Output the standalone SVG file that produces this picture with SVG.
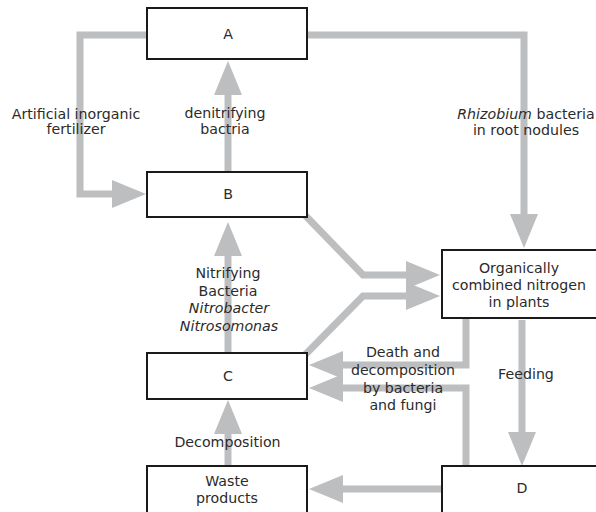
<svg xmlns="http://www.w3.org/2000/svg" width="596" height="512" viewBox="0 0 596 512">
<style>
.c{fill:none;stroke:#bcbec0;stroke-width:7;stroke-linejoin:miter}
.b{fill:#fff;stroke:#1a1a1a;stroke-width:2}
text{font-family:"DejaVu Sans","Liberation Sans",sans-serif;font-size:14.2px;fill:#2b2b2b;text-anchor:middle}
.i{font-style:italic}
</style>
<defs>
<marker id="ah" markerUnits="userSpaceOnUse" viewBox="0 -14 34 28" markerWidth="34" markerHeight="28" refX="1" refY="0" orient="auto">
<path d="M0,-14 L34,0 L0,14 z" fill="#bcbec0"/>
</marker>
</defs>
<rect width="596" height="512" fill="#fff"/>
<g id="connectors">
<path class="c" d="M150,35 H80 V194 H113" marker-end="url(#ah)"/>
<path class="c" d="M228,175 V94" marker-end="url(#ah)"/>
<path class="c" d="M304,35 H524 V215" marker-end="url(#ah)"/>
<path class="c" d="M300,210 L363,275 H407" marker-end="url(#ah)"/>
<path class="c" d="M300,360 L363,296 H407" marker-end="url(#ah)"/>
<path class="c" d="M466,315 V365 H342" marker-end="url(#ah)"/>
<path class="c" d="M466,470 V388 H342" marker-end="url(#ah)"/>
<path class="c" d="M522,320 V433" marker-end="url(#ah)"/>
<path class="c" d="M445,489 H342" marker-end="url(#ah)"/>
<path class="c" d="M228,469 V433" marker-end="url(#ah)"/>
<path class="c" d="M228,356 V255" marker-end="url(#ah)"/>
</g>
<g id="A"><rect class="b" x="147" y="8" width="160" height="51"/><text x="228" y="39">A</text></g>
<g id="B"><rect class="b" x="147" y="172" width="160" height="45"/><text x="228" y="199">B</text></g>
<g id="C"><rect class="b" x="147" y="353" width="160" height="46"/><text x="228" y="381">C</text></g>
<g id="Waste"><rect class="b" x="147" y="466" width="160" height="52"/><text x="227" y="486">Waste</text><text x="227" y="503">products</text></g>
<g id="Plants"><rect class="b" x="442" y="250" width="160" height="68"/><text x="519" y="273">Organically</text><text x="519" y="290">combined nitrogen</text><text x="519" y="307">in plants</text></g>
<g id="D"><rect class="b" x="442" y="466" width="160" height="52"/><text x="522" y="493">D</text></g>
<g id="labels">
<text x="76" y="118.5">Artificial inorganic</text><text x="76" y="134">fertilizer</text>
<text x="225" y="118">denitrifying</text><text x="225" y="134">bactria</text>
<text x="526" y="119"><tspan class="i">Rhizobium</tspan> bacteria</text><text x="526" y="135">in root nodules</text>
<text x="228" y="278">Nitrifying</text><text x="228" y="295.5">Bacteria</text><text class="i" x="229" y="313">Nitrobacter</text><text class="i" x="229" y="331">Nitrosomonas</text>
<text x="403" y="357">Death and</text><text x="403" y="375">decomposition</text><text x="403" y="393">by bacteria</text><text x="403" y="410">and fungi</text>
<text x="526" y="379">Feeding</text>
<text x="227.5" y="447">Decomposition</text>
</g>
</svg>
